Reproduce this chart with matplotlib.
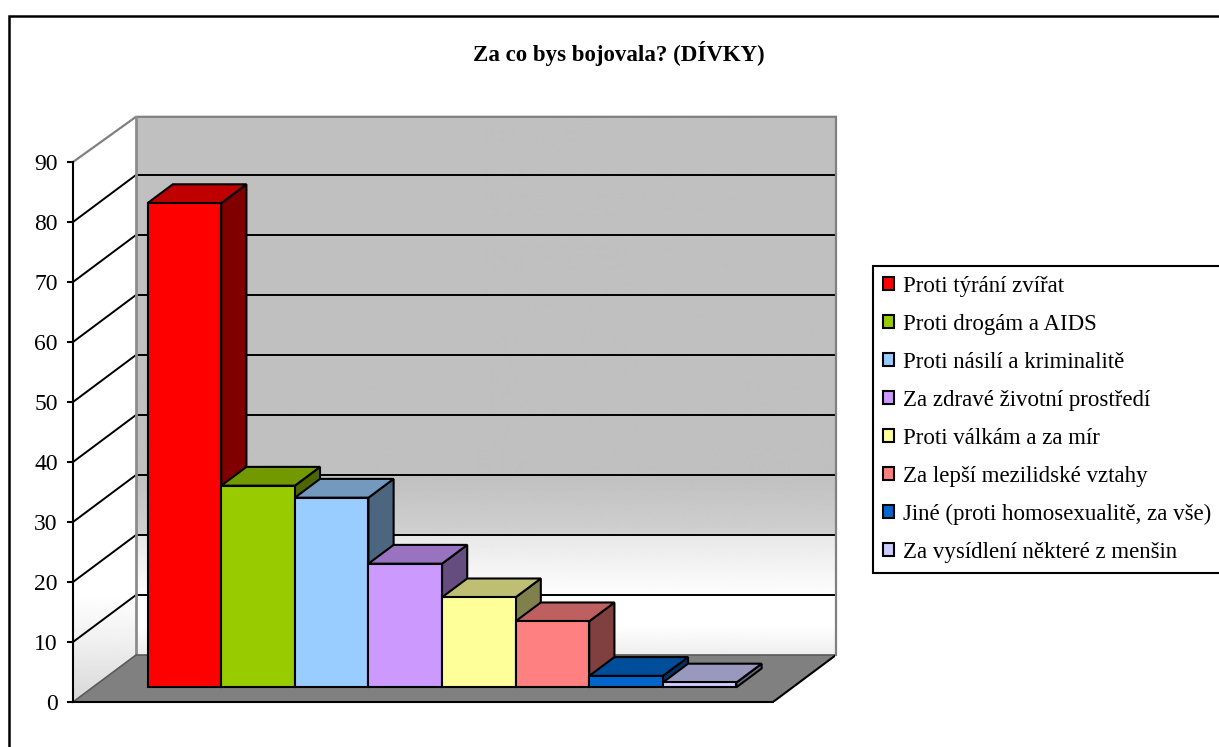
import numpy as np
import matplotlib
matplotlib.use("Agg")
import matplotlib.pyplot as plt
from matplotlib.lines import Line2D
from matplotlib.patches import Patch, Polygon
from matplotlib.colors import to_rgb

labels = ["Proti týrání zvířat", "Proti drogám a AIDS", "Proti násilí a kriminalitě",
          "Za zdravé životní prostředí", "Proti válkám a za mír",
          "Za lepší mezilidské vztahy", "Jiné (proti homosexualitě, za vše)",
          "Za vysídlení některé z menšin"]
values = [80.7, 33.6, 31.6, 20.6, 15, 11, 1.9, 0.8]
colors = ["#FF0000", "#99CC00", "#99CCFF", "#CC99FF", "#FFFF99", "#FF8080", "#0066CC", "#CCCCFF"]
yticks = list(range(0, 100, 10))
title = "Za co bys bojovala? (DÍVKY)"

W, H = 1219, 747
plt.rcParams["font.family"] = ["Liberation Serif", "DejaVu Serif"]

fig = plt.figure(figsize=(W / 100, H / 100), dpi=100, facecolor="white")

# axes box in pixels: front axis 73..773, 0 at 702, 90 at 162, back wall reaches 835
px_unit = 6.0
bar_px = 73.6
DX = 63 / bar_px
DY = 47 / px_unit
ax_h = 90 * px_unit + 47
ax = fig.add_axes([73 / W, (H - 702) / H, 762 / W, ax_h / H])
x0 = -0.5 - 54.9 / bar_px
x1 = x0 + 700 / bar_px
wall_top = 90 + DY - 0.3
ax.set_xlim(x0, x0 + 762 / bar_px)
ax.set_ylim(0, 90 + DY)
ax.patch.set_visible(False)

# walls with gradients
back_v = [0, 5, 10, 19.8, 20.2, 30, 90]
back_g = [238, 255, 254, 232, 208, 192, 192]
side_v = [0, 10, 18, 90]
side_g = [215, 240, 255, 255]

back_rows = np.interp(np.linspace(0, 90, 540), back_v, back_g).reshape(-1, 1)
im = ax.imshow(back_rows, extent=(x0 + DX, x1 + DX, DY, wall_top), origin="lower", aspect="auto",
               cmap="gray", vmin=0, vmax=255, zorder=1)
side_rows = np.interp(np.linspace(0, 90 + DY, 590), side_v, side_g).reshape(-1, 1)
side_poly = Polygon([(x0, 0), (x0 + DX, DY), (x0 + DX, wall_top), (x0, 90)], closed=True,
                    transform=ax.transData, facecolor="none", edgecolor="none")
ax.add_patch(side_poly)
im2 = ax.imshow(side_rows, extent=(x0, x0 + DX, 0, wall_top), origin="lower", aspect="auto",
                cmap="gray", vmin=0, vmax=255, zorder=1)
im2.set_clip_path(side_poly)
ax.set_xlim(x0, x0 + 762 / bar_px)
ax.set_ylim(0, 90 + DY)

# gridlines across side wall and back wall
for v in yticks[1:-1]:
    ax.plot([x0, x0 + DX, x1 + DX], [v, v + DY, v + DY], color="black", lw=1.4, zorder=2,
            clip_on=False, solid_joinstyle="miter")

# wall outline
ax.plot([x0, x0 + DX, x1 + DX, x1 + DX], [90, wall_top, wall_top, DY], color="#808080", lw=1.6,
        zorder=2, clip_on=False, solid_joinstyle="miter")
ax.plot([x0 + DX, x0 + DX], [DY, wall_top], color="#8c8c8c", lw=2.0, zorder=2)

# floor
ax.add_patch(Polygon([(x0, 0), (x1, 0), (x1 + DX, DY), (x0 + DX, DY)], closed=True,
                     facecolor="#808080", edgecolor="none", zorder=3))
ax.plot([x0, x0 + DX, x1 + DX], [0, DY, DY], color="#5a5a5a", lw=1.2, zorder=3)
ax.plot([x1, x1 + DX], [0, DY], color="black", lw=1.5, zorder=3)

# bars, left to right so each one covers the side of the one before
d0, d1 = 0.313, 0.713
base = d0 * DY
depth_x = (d1 - d0) * DX
depth_y = (d1 - d0) * DY
for i, (val, col) in enumerate(zip(values, colors)):
    z = 4 + i
    left = i - 0.5 + d0 * DX
    right = left + 1
    top = base + val
    rgb = np.array(to_rgb(col))
    ax.add_patch(Polygon([(right, base), (right + depth_x, base + depth_y),
                          (right + depth_x, top + depth_y), (right, top)], closed=True,
                         facecolor=rgb * 0.5, edgecolor="black", lw=1.5, zorder=z,
                         joinstyle="miter"))
    ax.add_patch(Polygon([(left, top), (right, top), (right + depth_x, top + depth_y),
                          (left + depth_x, top + depth_y)], closed=True,
                         facecolor=rgb * 0.75, edgecolor="black", lw=1.5, zorder=z,
                         joinstyle="miter"))
    ax.bar(left + 0.5, val, width=1, bottom=base, color=col, edgecolor="black", linewidth=1.5,
           zorder=z)

# axis
for s in ["top", "right"]:
    ax.spines[s].set_visible(False)
ax.spines["left"].set_bounds(0, 90)
ax.spines["bottom"].set_bounds(x0, x1)
ax.spines["left"].set_linewidth(1.5)
ax.spines["bottom"].set_linewidth(1.5)
ax.spines["left"].set_zorder(20)
ax.spines["bottom"].set_zorder(20)
ax.set_xticks([])
ax.set_yticks(yticks)
ax.tick_params(axis="y", direction="out", length=4.5, width=1.5, pad=6.5, labelsize=17)

fig.text(619 / W, 1 - 53 / H, title, ha="center", va="center", fontsize=16.5, fontweight="bold")

# chart frame runs off the right and bottom of the picture
fig.add_artist(Line2D([9 / W, 9 / W, 1], [0, 1 - 16 / H, 1 - 16 / H], color="black", lw=1.8,
                      solid_joinstyle="miter"))

handles = [Patch(facecolor=c, edgecolor="black", linewidth=1.5) for c in colors]
leg = fig.legend(handles, labels, loc="upper left", bbox_to_anchor=(873 / W, 1 - 266 / H),
                 bbox_transform=fig.transFigure, borderaxespad=0, fontsize=16.5, frameon=True,
                 fancybox=False, edgecolor="black", framealpha=1, handlelength=0.5,
                 handleheight=0.5, handletextpad=0.36, labelspacing=0.74, borderpad=0.43)
leg.get_frame().set_linewidth(1.5)

fig.savefig("out.png", dpi=100)
